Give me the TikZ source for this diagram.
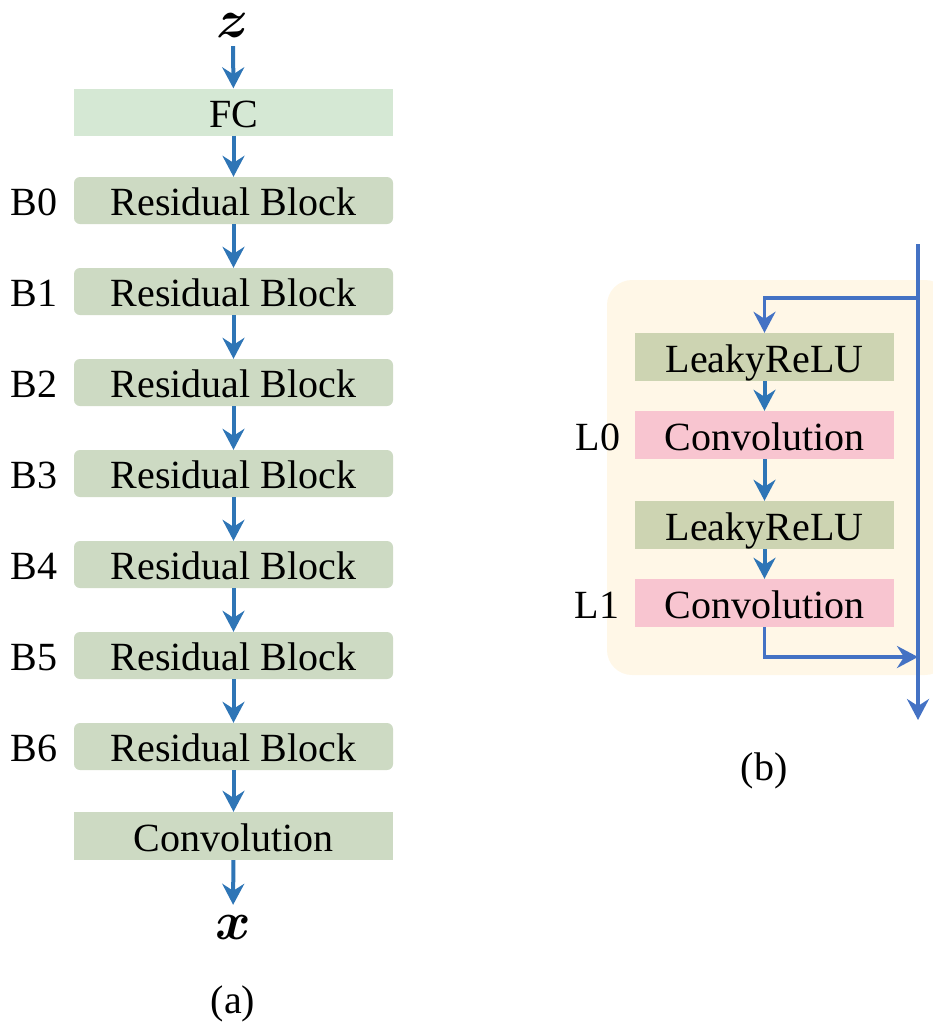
\RequirePackage{fix-cm}
\documentclass[tikz,border=0pt]{standalone}
\usepackage{amsmath}
\usepackage{fontspec}
\setmainfont{Liberation Serif}
\usetikzlibrary{arrows.meta}
\definecolor{fcgreen}{HTML}{D5E8D4}
\definecolor{resgreen}{HTML}{CDDAC3}
\definecolor{leakygreen}{HTML}{CDD4B2}
\definecolor{convpink}{HTML}{F8C5D0}
\definecolor{cream}{HTML}{FFF7E7}
\definecolor{flowblue}{HTML}{2E75B6}
\definecolor{skipblue}{HTML}{4472C4}
\begin{document}
\begin{tikzpicture}[x=1pt, y=-1pt,
    every node/.style={font=\fontsize{40}{48}\selectfont, inner sep=0pt},
    txt/.style={text height=32pt, text depth=2pt},
    layer/.style={txt, minimum width=319pt, minimum height=47pt},
    resblock/.style={layer, fill=resgreen, rounded corners=6pt},
    unit/.style={txt, minimum width=259pt, minimum height=48pt},
    vec/.style={font=\fontsize{54}{58}\selectfont},
    flow/.style={draw=flowblue, line width=4pt, -{Stealth[length=21pt, width=22pt, inset=7pt]}},
    skip/.style={draw=skipblue, line width=3.5pt},
    skiparrow/.style={skip, -{Stealth[length=21pt, width=22pt, inset=7pt]}}
]
    \useasboundingbox (0,0) rectangle (932,1023);
    % (a) generator
    \node[vec] (z) at (233,25) {$\boldsymbol{z}$};
    \node[layer, fill=fcgreen] (fc) at (233.5,112) {FC};
    \node[resblock] (b0) at (233.5,200.5) {Residual Block};
    \node[resblock] (b1) at (233.5,291.5) {Residual Block};
    \node[resblock] (b2) at (233.5,382.5) {Residual Block};
    \node[resblock] (b3) at (233.5,473.5) {Residual Block};
    \node[resblock] (b4) at (233.5,564.5) {Residual Block};
    \node[resblock] (b5) at (233.5,655.5) {Residual Block};
    \node[resblock] (b6) at (233.5,746.5) {Residual Block};
    \node[layer, fill=resgreen, minimum height=48pt] (conv) at (233.5,836) {Convolution};
    \node[vec] (x) at (233,927) {$\boldsymbol{x}$};
    \node[txt] (lb0) at (34,200.5) {B0};
    \node[txt] (lb1) at (34,291.5) {B1};
    \node[txt] (lb2) at (34,382.5) {B2};
    \node[txt] (lb3) at (34,473.5) {B3};
    \node[txt] (lb4) at (34,564.5) {B4};
    \node[txt] (lb5) at (34,655.5) {B5};
    \node[txt] (lb6) at (34,746.5) {B6};
    \node (capa) at (233,1004) {(a)};
    \path (z) edge[flow, shorten <=9pt] (fc);
    \path (fc) edge[flow] (b0);
    \path (b0) edge[flow] (b1);
    \path (b1) edge[flow] (b2);
    \path (b2) edge[flow] (b3);
    \path (b3) edge[flow] (b4);
    \path (b4) edge[flow] (b5);
    \path (b5) edge[flow] (b6);
    \path (b6) edge[flow] (conv);
    \path (conv) edge[flow, shorten >=10pt] (x);
    % (b) residual block
    \fill[cream, rounded corners=25pt] (607,280) rectangle (950,675);
    \node[unit, fill=leakygreen] (relu0) at (764.5,357) {LeakyReLU};
    \node[unit, fill=convpink] (conv0) at (764.5,435) {Convolution};
    \node[unit, fill=leakygreen] (relu1) at (764.5,525) {LeakyReLU};
    \node[unit, fill=convpink] (conv1) at (764.5,603) {Convolution};
    \node[txt] (ll0) at (598,435) {L0};
    \node[txt] (ll1) at (597,603) {L1};
    \node (capb) at (764,771) {(b)};
    \coordinate (skiptop) at (918,244);
    \coordinate (split) at (918,298);
    \coordinate (merge) at (918,657);
    \coordinate (skipend) at (918,720);
    \path (relu0) edge[flow] (conv0);
    \path (conv0) edge[flow] (relu1);
    \path (relu1) edge[flow] (conv1);
    \draw[skiparrow] (skiptop) -- (skipend);
    \draw[skiparrow] (split) -| (relu0.north);
    \draw[skiparrow] (conv1.south) |- (merge);
\end{tikzpicture}
\end{document}
